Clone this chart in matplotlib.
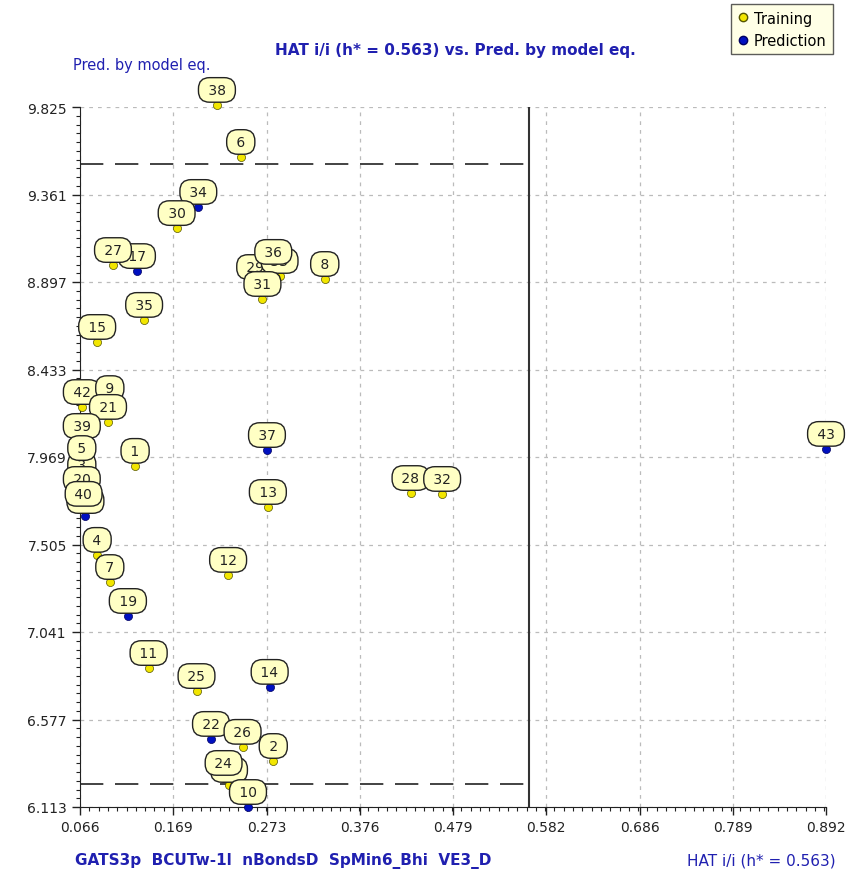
import matplotlib
matplotlib.use("Agg")
import matplotlib.pyplot as plt
from matplotlib.lines import Line2D
from matplotlib.ticker import FixedLocator, AutoMinorLocator

# compound id, leverage (HAT i/i), predicted value, set (T = training, P = prediction)
ids = ['29', '33', '36', '31', '38', '6', '34', '30', '17', '27', '8', '35', '15',
       '42', '9', '21', '39', '1', '41', '3', '20', '40', '5', '37', '28', '32',
       '43', '13', '4', '7', '19', '12', '11', '25', '14', '22', '2', '26', '23',
       '24', '10']
hat = [0.260, 0.287, 0.280, 0.268, 0.2176, 0.244, 0.197, 0.173, 0.129, 0.1025,
       0.337, 0.137, 0.085, 0.068, 0.099, 0.097, 0.068, 0.127, 0.072, 0.068,
       0.068, 0.070, 0.068, 0.273, 0.432, 0.467, 0.892, 0.274, 0.085, 0.099,
       0.119, 0.230, 0.142, 0.195, 0.276, 0.211, 0.280, 0.246, 0.231, 0.225,
       0.252]
pred = [8.897, 8.929, 8.977, 8.807, 9.836, 9.560, 9.295, 9.183, 8.955, 8.987,
        8.913, 8.696, 8.579, 8.234, 8.255, 8.155, 8.054, 7.922, 7.656, 7.847,
        7.773, 7.694, 7.937, 8.006, 7.778, 7.773, 8.012, 7.704, 7.450, 7.306,
        7.126, 7.344, 6.850, 6.728, 6.750, 6.474, 6.357, 6.432, 6.230, 6.267,
        6.113]
kind = ['T', 'T', 'T', 'T', 'T', 'T', 'P', 'T', 'P', 'T', 'T', 'T', 'T',
        'T', 'T', 'T', 'T', 'T', 'P', 'T', 'T', 'T', 'T', 'P', 'T', 'T',
        'P', 'T', 'T', 'T', 'P', 'T', 'T', 'T', 'P', 'P', 'T', 'T', 'T',
        'T', 'P']

x_ticks = [0.066, 0.169, 0.273, 0.376, 0.479, 0.582, 0.686, 0.789, 0.892]
y_ticks = [6.113, 6.577, 7.041, 7.505, 7.969, 8.433, 8.897, 9.361, 9.825]
h_star = 0.563
upper_limit = 9.523
lower_limit = 6.235

blue_txt = '#2020b0'
colors = {'T': '#f2e600', 'P': '#0010c0'}

fig = plt.figure(figsize=(8.51, 8.79), dpi=100)
ax = fig.add_axes([80 / 851, 71 / 879, 746 / 851, 700 / 879])

ax.set_xlim(x_ticks[0], x_ticks[-1])
ax.set_ylim(y_ticks[0], y_ticks[-1])
ax.xaxis.set_major_locator(FixedLocator(x_ticks))
ax.yaxis.set_major_locator(FixedLocator(y_ticks))
ax.set_xticklabels(['%.3f' % v for v in x_ticks])
ax.set_yticklabels(['%.3f' % v for v in y_ticks])
ax.xaxis.set_minor_locator(AutoMinorLocator(10))
ax.yaxis.set_minor_locator(AutoMinorLocator(10))
ax.tick_params(which='major', length=6, width=1, labelsize=10, colors='#222222')
ax.tick_params(which='minor', length=3, width=0.8, colors='#222222')
ax.grid(True, which='major', color='#bbbbbb', linestyle=(0, (3, 4)), linewidth=0.9)
for s in ['top', 'right']:
    ax.spines[s].set_visible(False)
for s in ['left', 'bottom']:
    ax.spines[s].set_color('#222222')

# warning leverage and residual limits
ax.axvline(h_star, color='#333333', lw=1.5, zorder=2)
ax.plot([x_ticks[0], h_star], [upper_limit, upper_limit], color='#222222',
        lw=1.2, linestyle=(0, (14, 7)), zorder=2)
ax.plot([x_ticks[0], h_star], [lower_limit, lower_limit], color='#222222',
        lw=1.2, linestyle=(0, (14, 7)), zorder=2)

for i in range(len(ids)):
    ax.scatter(hat[i], pred[i], s=34, color=colors[kind[i]], edgecolor='#555500'
               if kind[i] == 'T' else '#000060', linewidth=0.5, zorder=3,
               clip_on=False)

for i in range(len(ids)):
    ax.annotate(' ' + ids[i] + ' ', (hat[i], pred[i]), xytext=(0, 15),
                textcoords='offset pixels', ha='center', va='center',
                fontsize=10, color='#222222', annotation_clip=False, zorder=5 + i,
                bbox=dict(boxstyle='round,pad=0.38,rounding_size=0.8',
                          fc='#ffffc4', ec='#222222', lw=1))

fig.text(0.535, 0.942, 'HAT i/i (h* = 0.563) vs. Pred. by model eq.', ha='center',
         va='center', fontsize=11, fontweight='bold', color=blue_txt)
fig.text(0.166, 0.925, 'Pred. by model eq.', ha='center', va='center',
         fontsize=10.5, color=blue_txt)
fig.text(0.333, 0.021, 'GATS3p  BCUTw-1l  nBondsD  SpMin6_Bhi  VE3_D', ha='center',
         va='center', fontsize=11, fontweight='bold', color=blue_txt)
fig.text(0.982, 0.021, 'HAT i/i (h* = 0.563)', ha='right', va='center',
         fontsize=11, color=blue_txt)

handles = [Line2D([], [], marker='o', linestyle='', markersize=6,
                  markerfacecolor=colors['T'], markeredgecolor='#555500'),
           Line2D([], [], marker='o', linestyle='', markersize=6,
                  markerfacecolor=colors['P'], markeredgecolor='#000060')]
leg = fig.legend(handles, ['Training', 'Prediction'], loc='upper right',
                 bbox_to_anchor=(833 / 851, 1 - 5 / 879), fontsize=10.5,
                 frameon=True, fancybox=False, handlelength=0.8,
                 handletextpad=0.3, borderpad=0.45, labelspacing=0.5,
                 borderaxespad=0)
leg.get_frame().set_facecolor('#ffffe0')
leg.get_frame().set_edgecolor('#333333')
leg.get_frame().set_linewidth(1)

fig.savefig('out.png', dpi=100)
